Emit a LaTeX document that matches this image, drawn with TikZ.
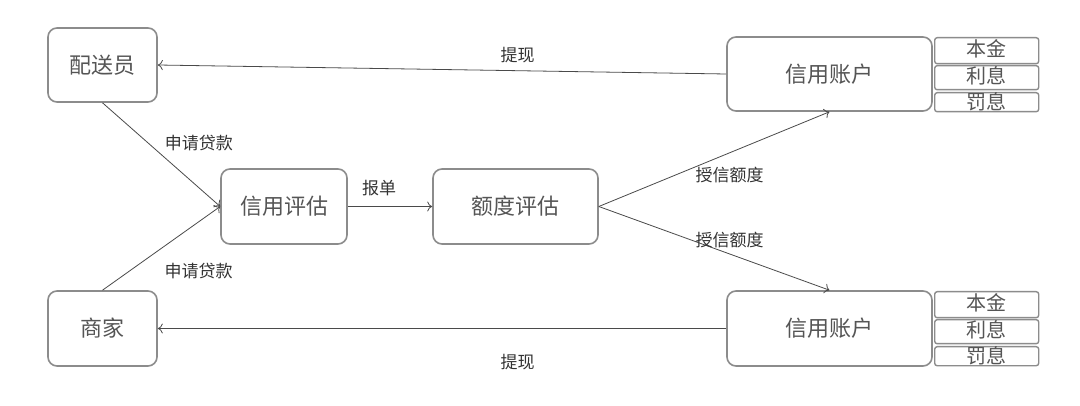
\documentclass[tikz,border=0pt]{standalone}
\usepackage{fontspec}
\setmainfont{Noto Sans CJK SC}
\usetikzlibrary{arrows.meta}

\definecolor{boxline}{HTML}{8C8C8C}
\definecolor{boxtext}{HTML}{555555}
\definecolor{conn}{HTML}{4A4A4A}

\begin{document}
\begin{tikzpicture}[x=1pt,y=-1pt,
    box/.style={draw=boxline,line width=1.6pt,rounded corners=9pt,fill=white,
      inner sep=0pt,text=boxtext,font=\fontsize{22}{24}\selectfont},
    part/.style={draw=boxline,line width=1.4pt,rounded corners=2.5pt,fill=white,
      inner sep=0pt,minimum width=104pt},
    parttext/.style={text=boxtext,inner sep=0pt,anchor=north,font=\fontsize{20}{20}\selectfont},
    conn/.style={draw=conn,line width=0.8pt,-{To[length=5pt,width=10pt]}},
    lbl/.style={text=black!80,inner sep=2pt,font=\fontsize{17}{18}\selectfont}]
      \useasboundingbox[fill=white] (0,0) rectangle (1080,406);
      % left and middle boxes
      \node[box,minimum width=109pt,minimum height=74pt] (psy) at (102.5,65) {配送员};
      \node[box,minimum width=109pt,minimum height=75pt] (sj) at (102.5,328.5) {商家};
      \node[box,minimum width=126pt,minimum height=75pt] (xypg) at (284,206.5) {信用评估};
      \node[box,minimum width=165pt,minimum height=75pt] (edpg) at (515.5,206.5) {额度评估};
      % accounts
      \node[box,minimum width=205pt,minimum height=74pt] (zh1) at (829.5,74) {信用账户};
      \node[box,minimum width=205pt,minimum height=75pt] (zh2) at (829.5,328.5) {信用账户};
      \foreach \acc/\top in {1/37,2/291} {
        \node[part,minimum height=26pt,anchor=north west] (bj\acc) at (934,\top) {};
        \node[part,minimum height=24pt,anchor=north west] (lx\acc) at (934,\top+28) {};
        \node[part,minimum height=19pt,anchor=north west] (fx\acc) at (934,\top+55) {};
        \node[parttext] at ([yshift=-2pt]bj\acc.north) {本金};
        \node[parttext] at ([yshift=-1pt]lx\acc.north) {利息};
        \node[parttext] at ([yshift=0pt]fx\acc.north) {罚息};
      }
      % connectors
      \draw[conn] (zh1.west) -- (psy.east)
        node[lbl,pos=0.367,anchor=south,yshift=5pt] {提现};
      \draw[conn] (psy.south) -- (xypg.west)
        node[lbl,pos=0.39,anchor=west,xshift=14pt] {申请贷款};
      \draw[conn] (sj.north) -- (xypg.west)
        node[lbl,pos=0.226,anchor=west,xshift=33pt] {申请贷款};
      \draw[conn] (xypg.east) -- (edpg.west)
        node[lbl,pos=0.37,anchor=south,yshift=8pt] {报单};
      \draw[conn] (edpg.east) -- (zh1.south)
        node[lbl,pos=0.567,anchor=north,yshift=-12pt] {授信额度};
      \draw[conn] (edpg.east) -- (zh2.north)
        node[lbl,pos=0.567,anchor=south,yshift=4pt] {授信额度};
      \draw[conn] (zh2.west) -- (sj.east)
        node[lbl,pos=0.367,anchor=north,yshift=-23pt] {提现};
\end{tikzpicture}
\end{document}
